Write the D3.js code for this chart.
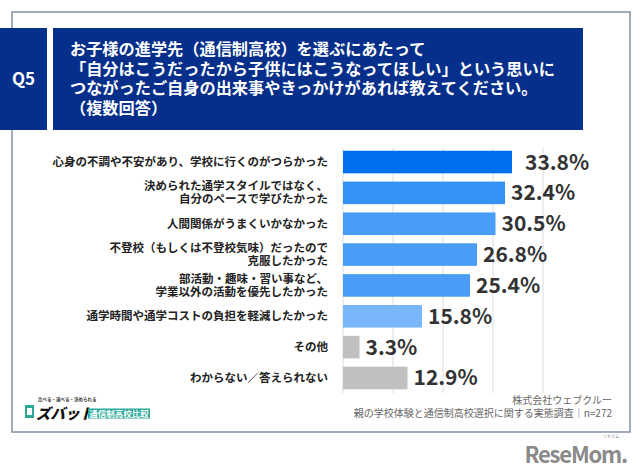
<!DOCTYPE html>
<html>
<head>
<meta charset="utf-8">
<script src="https://cdn.jsdelivr.net/npm/d3@7"></script>
<style>
  html, body { margin: 0; padding: 0; background: #fff; }
  svg { display: block; }
  text { font-family: "Noto Sans CJK JP", "Noto Sans", sans-serif; }
</style>
</head>
<body>
<svg id="chart" width="640" height="476"></svg>
<script>
// ---- data ----
const categories = [
  "心身の不調や不安があり、学校に行くのがつらかった",
  "決められた通学スタイルではなく、\n自分のペースで学びたかった",
  "人間関係がうまくいかなかった",
  "不登校（もしくは不登校気味）だったので\n克服したかった",
  "部活動・趣味・習い事など、\n学業以外の活動を優先したかった",
  "通学時間や通学コストの負担を軽減したかった",
  "その他",
  "わからない／答えられない"
];
const values = [33.8, 32.4, 30.5, 26.8, 25.4, 15.8, 3.3, 12.9];
const gridTicks = [0, 10, 20, 30, 40];
const titleLines = [
  "お子様の進学先（通信制高校）を選ぶにあたって",
  "「自分はこうだったから子供にはこうなってほしい」という思いに",
  "つながったご自身の出来事やきっかけがあれば教えてください。",
  "（複数回答）"
];
const questionLabel = "Q5";
const sourceLines = ["株式会社ウェブクルー", "親の学校体験と通信制高校選択に関する実態調査｜n=272"];
const barColors = ["#0070f0", "#3592f5", "#4a9df7", "#4a9df7", "#4a9df7", "#7ab7fa", "#c0c0c0", "#c0c0c0"];

const svg = d3.select("#chart");

// frame
svg.append("rect").attr("x", 12).attr("y", 12).attr("width", 618).attr("height", 420)
  .attr("fill", "#fff").attr("stroke", "#8291a6").attr("stroke-width", 1.5);

// header
const navy = "#052f8a";
svg.append("rect").attr("x", 0).attr("y", 28).attr("width", 47).attr("height", 102).attr("fill", navy);
svg.append("rect").attr("x", 53).attr("y", 28).attr("width", 530).attr("height", 102).attr("fill", navy);
svg.append("text").attr("x", 23.5).attr("y", 85).attr("text-anchor", "middle")
  .attr("fill", "#fff").attr("font-size", 17).attr("font-weight", "bold")
  .attr("font-family", "'Noto Sans', sans-serif").text(questionLabel);
svg.append("g").selectAll("text").data(titleLines).join("text")
  .attr("x", 70).attr("y", (d, i) => 55 + i * 19.5)
  .attr("fill", "#fff").attr("font-size", 16.2).attr("font-weight", "bold")
  .text(d => d);

// scales
const x = d3.scaleLinear().domain([0, 40]).range([343, 543]);
const y = d3.scaleBand().domain(categories).range([146.6, 393.4]).paddingInner(0.268).paddingOuter(0.134);
const color = d3.scaleOrdinal().domain(categories).range(barColors);

// gridlines
svg.append("g").selectAll("line").data(gridTicks).join("line")
  .attr("x1", d => x(d)).attr("x2", d => x(d))
  .attr("y1", 148).attr("y2", 393)
  .attr("stroke", "#dcdcdc").attr("stroke-width", 1);

// bars
svg.append("g").selectAll("rect").data(categories).join("rect")
  .attr("x", x(0)).attr("y", d => y(d))
  .attr("width", (d, i) => x(values[i]) - x(0))
  .attr("height", y.bandwidth())
  .attr("fill", d => color(d));

// value labels
svg.append("g").selectAll("text").data(categories).join("text")
  .attr("x", (d, i) => x(values[i]) + (i === 0 ? 13 : 6))
  .attr("y", d => y(d) + y.bandwidth() / 2 + 7.5)
  .attr("font-family", "'DejaVu Sans', sans-serif")
  .attr("font-size", 21).attr("font-weight", "bold").attr("fill", "#333")
  .text((d, i) => values[i].toFixed(1) + "%");

// category labels
const lab = svg.append("g").selectAll("text").data(categories).join("text")
  .attr("text-anchor", "end").attr("font-size", 11.5).attr("font-weight", "bold").attr("fill", "#222");
lab.each(function(d) {
  const lines = d.split("\n");
  const cy = y(d) + y.bandwidth() / 2;
  const lh = 13;
  d3.select(this).selectAll("tspan").data(lines).join("tspan")
    .attr("x", 328)
    .attr("y", (l, j) => cy + 4 + (j - (lines.length - 1) / 2) * lh)
    .text(l => l);
});

// source
svg.append("g").selectAll("text").data(sourceLines).join("text")
  .attr("x", 612).attr("y", (d, i) => 404 + i * 12.5)
  .attr("text-anchor", "end").attr("font-size", 10).attr("fill", "#666")
  .text(d => d);

// logo (zubat)
const logo = svg.append("g");
logo.append("rect").attr("x", 25).attr("y", 405).attr("width", 9).attr("height", 13).attr("fill", "#2aa89a");
logo.append("rect").attr("x", 27).attr("y", 408).attr("width", 5).attr("height", 7).attr("fill", "#fff");
logo.append("text").attr("x", 38).attr("y", 401).attr("font-size", 4.5).attr("font-weight", "bold").attr("fill", "#333")
  .text("比べる・選べる・決められる");
logo.append("text").attr("x", 36).attr("y", 419).attr("font-size", 14.5).attr("font-weight", "900").attr("fill", "#111")
  .attr("font-style", "italic").text("ズバット");
logo.append("rect").attr("x", 88).attr("y", 408.5).attr("width", 62).attr("height", 10).attr("fill", "#2aa89a");
logo.append("text").attr("x", 119).attr("y", 416.8).attr("text-anchor", "middle").attr("font-size", 8.5)
  .attr("font-weight", "bold").attr("fill", "#fff").text("通信制高校比較");

// ReseMom watermark
svg.append("text").attr("x", 627).attr("y", 463).attr("text-anchor", "end")
  .attr("font-family", "'DejaVu Sans', sans-serif").attr("font-size", 22).attr("font-weight", "bold")
  .attr("fill", "#8a8a8a").attr("letter-spacing", -1.2).text("ReseMom.");
svg.append("text").attr("x", 611).attr("y", 438).attr("text-anchor", "middle").attr("font-size", 4)
  .attr("fill", "#8a8a8a").text("リセマム");
</script>
</body>
</html>
